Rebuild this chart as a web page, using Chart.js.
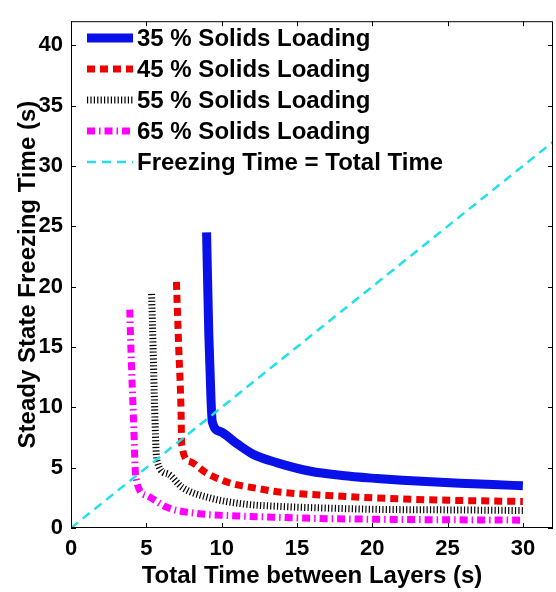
<!DOCTYPE html>
<html>
<head>
<meta charset="utf-8">
<script src="https://cdn.jsdelivr.net/npm/chart.js@4/dist/chart.umd.min.js"></script>
<style>
  html, body { margin: 0; padding: 0; background: #fff; }
</style>
</head>
<body>
<canvas id="chart" width="556" height="592"></canvas>
<script>
// tick labels
const xTicks = [0, 5, 10, 15, 20, 25, 30];
const yTicks = [0, 5, 10, 15, 20, 25, 30, 35, 40];

const labels = [
  "35 % Solids Loading",
  "45 % Solids Loading",
  "55 % Solids Loading",
  "65 % Solids Loading",
  "Freezing Time = Total Time"
];

// values
const x35 = [9.0, 9.15, 9.3, 9.38, 9.9, 11, 12.1, 13.7, 15.9, 18, 20.3, 22, 25.8, 28, 30];
const y35 = [24.5, 16, 10.5, 8.8, 8.0, 7.0, 6.1, 5.4, 4.7, 4.35, 4.1, 3.95, 3.7, 3.6, 3.5];

const x45 = [7.0, 7.15, 7.3, 7.35, 7.9, 9, 10.5, 12.5, 13.7, 15, 17, 20, 25, 30];
const y45 = [20.4, 15, 10, 6.9, 5.5, 4.55, 3.75, 3.25, 3.0, 2.85, 2.7, 2.5, 2.3, 2.2];

const x55 = [5.35, 5.45, 5.55, 5.7, 6.4, 7.4, 9.2, 11.4, 13.7, 17, 20, 25, 30];
const y55 = [19.4, 15, 10, 5.6, 4.5, 3.35, 2.5, 2.0, 1.8, 1.65, 1.55, 1.5, 1.45];

const x65 = [3.9, 4.0, 4.15, 4.3, 5.0, 6.4, 8.4, 11, 13.4, 16, 20, 25, 30];
const y65 = [18.1, 14, 9, 4.2, 2.7, 1.7, 1.2, 1.0, 0.9, 0.8, 0.73, 0.68, 0.65];

const xDiag = [0, 32];
const yDiag = [0, 32];

const pts = (xs, ys) => xs.map((v, i) => ({ x: v, y: ys[i] }));

const FONT = "'Liberation Sans', Arial, sans-serif";

// box, inside ticks and legend, MATLAB style
const frame = {
  id: "frame",
  afterDatasetsDraw(chart) {
    const { ctx, chartArea: a, scales } = chart;
    const sx = scales.x, sy = scales.y;
    ctx.save();
    ctx.strokeStyle = "#000";
    ctx.lineWidth = 1;
    ctx.strokeRect(a.left + 0.5, a.top + 0.5, a.right - a.left - 1, a.bottom - a.top - 1);
    ctx.beginPath();
    xTicks.forEach(v => {
      const p = Math.round(sx.getPixelForValue(v)) + 0.5;
      ctx.moveTo(p, a.bottom); ctx.lineTo(p, a.bottom - 5);
      ctx.moveTo(p, a.top); ctx.lineTo(p, a.top + 5);
    });
    yTicks.forEach(v => {
      const p = Math.round(sy.getPixelForValue(v)) + 0.5;
      ctx.moveTo(a.left, p); ctx.lineTo(a.left + 5, p);
      ctx.moveTo(a.right, p); ctx.lineTo(a.right - 5, p);
    });
    ctx.stroke();

    // legend
    ctx.font = "bold 24px " + FONT;
    ctx.textBaseline = "middle";
    ctx.fillStyle = "#000";
    chart.data.datasets.forEach((ds, i) => {
      const yy = 38 + i * 31;
      ctx.save();
      ctx.strokeStyle = ds.borderColor;
      ctx.lineWidth = ds.borderWidth;
      ctx.setLineDash(ds.borderDash || []);
      ctx.beginPath();
      ctx.moveTo(87, yy);
      ctx.lineTo(133, yy);
      ctx.stroke();
      ctx.restore();
      ctx.fillText(ds.label, 137, yy + 1);
    });
    ctx.restore();
  }
};

const ctx = document.getElementById("chart").getContext("2d");

new Chart(ctx, {
  type: "line",
  data: {
    datasets: [
      { label: labels[0], data: pts(x35, y35), borderColor: "#0a10e8", borderWidth: 9, order: 4 },
      { label: labels[1], data: pts(x45, y45), borderColor: "#ee0000", borderWidth: 7, borderDash: [8, 5], order: 3 },
      { label: labels[2], data: pts(x55, y55), borderColor: "#000000", borderWidth: 7, borderDash: [1.2, 2.2], order: 2 },
      { label: labels[3], data: pts(x65, y65), borderColor: "#ff00ff", borderWidth: 7, borderDash: [8, 4, 1.5, 4], order: 1 },
      { label: labels[4], data: pts(xDiag, yDiag), borderColor: "#20e0ea", borderWidth: 2.5, borderDash: [9, 6], order: 0 }
    ]
  },
  options: {
    responsive: false,
    animation: false,
    layout: { padding: { top: 12, right: 3, left: 0, bottom: 0 } },
    elements: {
      point: { radius: 0 },
      line: { cubicInterpolationMode: "monotone", borderCapStyle: "butt", fill: false }
    },
    plugins: {
      legend: { display: false },
      tooltip: { enabled: false }
    },
    scales: {
      x: {
        type: "linear",
        min: 0,
        max: 32,
        grid: { display: false, drawTicks: false },
        border: { display: false },
        afterBuildTicks: s => { s.ticks = xTicks.map(v => ({ value: v })); },
        afterFit: s => { s.height = 64; },
        ticks: { color: "#000", padding: 8, maxRotation: 0, font: { family: FONT, size: 22, weight: "bold" } },
        title: {
          display: true,
          text: "Total Time between Layers (s)",
          color: "#000",
          padding: { top: 0, bottom: 1 },
          font: { family: FONT, size: 24, weight: "bold" }
        }
      },
      y: {
        min: 0,
        max: 42,
        grid: { display: false, drawTicks: false },
        border: { display: false },
        afterBuildTicks: s => { s.ticks = yTicks.map(v => ({ value: v })); },
        afterFit: s => { s.width = 71; },
        ticks: { color: "#000", padding: 8, font: { family: FONT, size: 22, weight: "bold" } },
        title: {
          display: true,
          text: "Steady State Freezing Time (s)",
          color: "#000",
          padding: { top: 14, bottom: 0 },
          font: { family: FONT, size: 24, weight: "bold" }
        }
      }
    }
  },
  plugins: [frame]
});
</script>
</body>
</html>
